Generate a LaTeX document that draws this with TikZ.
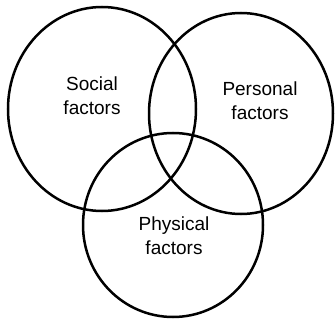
\documentclass[tikz,border=0pt]{standalone}
\usepackage{fontspec}
\setmainfont{Liberation Sans}
\begin{document}
\begin{tikzpicture}[x=1pt,y=-1pt,
  ring/.style={draw=black,line width=2.5pt},
  lbl/.style={align=center,font=\fontsize{19}{24}\selectfont,inner sep=0pt}]
\useasboundingbox (0,0) rectangle (335,321);
\draw[ring] (102,109) ellipse [x radius=94,y radius=102];
\draw[ring] (241,113.5) ellipse [x radius=92,y radius=100.5];
\draw[ring] (173,225) ellipse [x radius=90,y radius=92];
\node[lbl] (social) at (92,96) {Social\\factors};
\node[lbl] (personal) at (260,101) {Personal\\factors};
\node[lbl] (physical) at (174,236) {Physical\\factors};
\end{tikzpicture}
\end{document}
